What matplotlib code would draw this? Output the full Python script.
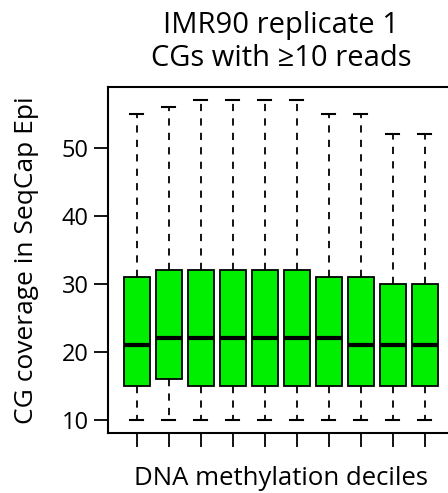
import matplotlib
matplotlib.use("Agg")
import matplotlib.pyplot as plt

plt.rcParams['font.family'] = ['Open Sans', 'DejaVu Sans']

deciles = list(range(1, 11))
whislo = [10, 10, 10, 10, 10, 10, 10, 10, 10, 10]
q1     = [15, 16, 15, 15, 15, 15, 15, 15, 15, 15]
med    = [21, 22, 22, 22, 22, 22, 22, 21, 21, 21]
q3     = [31, 32, 32, 32, 32, 32, 31, 31, 30, 30]
whishi = [55, 56, 57, 57, 57, 57, 55, 55, 52, 52]
yticks = [10, 20, 30, 40, 50]

title = "IMR90 replicate 1\nCGs with \u226510 reads"
xlabel = "DNA methylation deciles"
ylabel = "CG coverage in SeqCap Epi"

W, H = 448, 493
fig = plt.figure(figsize=(W / 100, H / 100), dpi=100)
left, right, top, bottom = 108, 453.6, 87.3, 432.7
ax = fig.add_axes([left / W, (H - bottom) / H, (right - left) / W, (bottom - top) / H])

stats = [dict(whislo=a, q1=b, med=c, q3=d, whishi=e, fliers=[])
         for a, b, c, d, e in zip(whislo, q1, med, q3, whishi)]
ax.bxp(stats, positions=deciles, widths=0.8, patch_artist=True,
       boxprops=dict(facecolor='#00ee00', edgecolor='black', linewidth=1.3),
       medianprops=dict(color='black', linewidth=3.0, solid_capstyle='butt'),
       whiskerprops=dict(color='black', linewidth=1.3, linestyle=(0, (4, 4))),
       capprops=dict(color='black', linewidth=1.5),
       capwidths=0.4, showfliers=False)

ax.set_xlim(0.1, 10.9)
ax.set_ylim(8.12, 58.88)
ax.set_yticks(yticks)
ax.set_xticks(deciles)
ax.set_xticklabels([''] * len(deciles))
ax.tick_params(axis='both', length=10, width=1.3, labelsize=17, pad=4)
for s in ax.spines.values():
    s.set_linewidth(1.5)

ax.set_xlabel(xlabel, fontsize=18.5, labelpad=10)
ax.set_ylabel(ylabel, fontsize=19, labelpad=16)
ax.set_title(title, fontsize=21, pad=15, linespacing=1.2)

fig.savefig("out.png", dpi=100)
